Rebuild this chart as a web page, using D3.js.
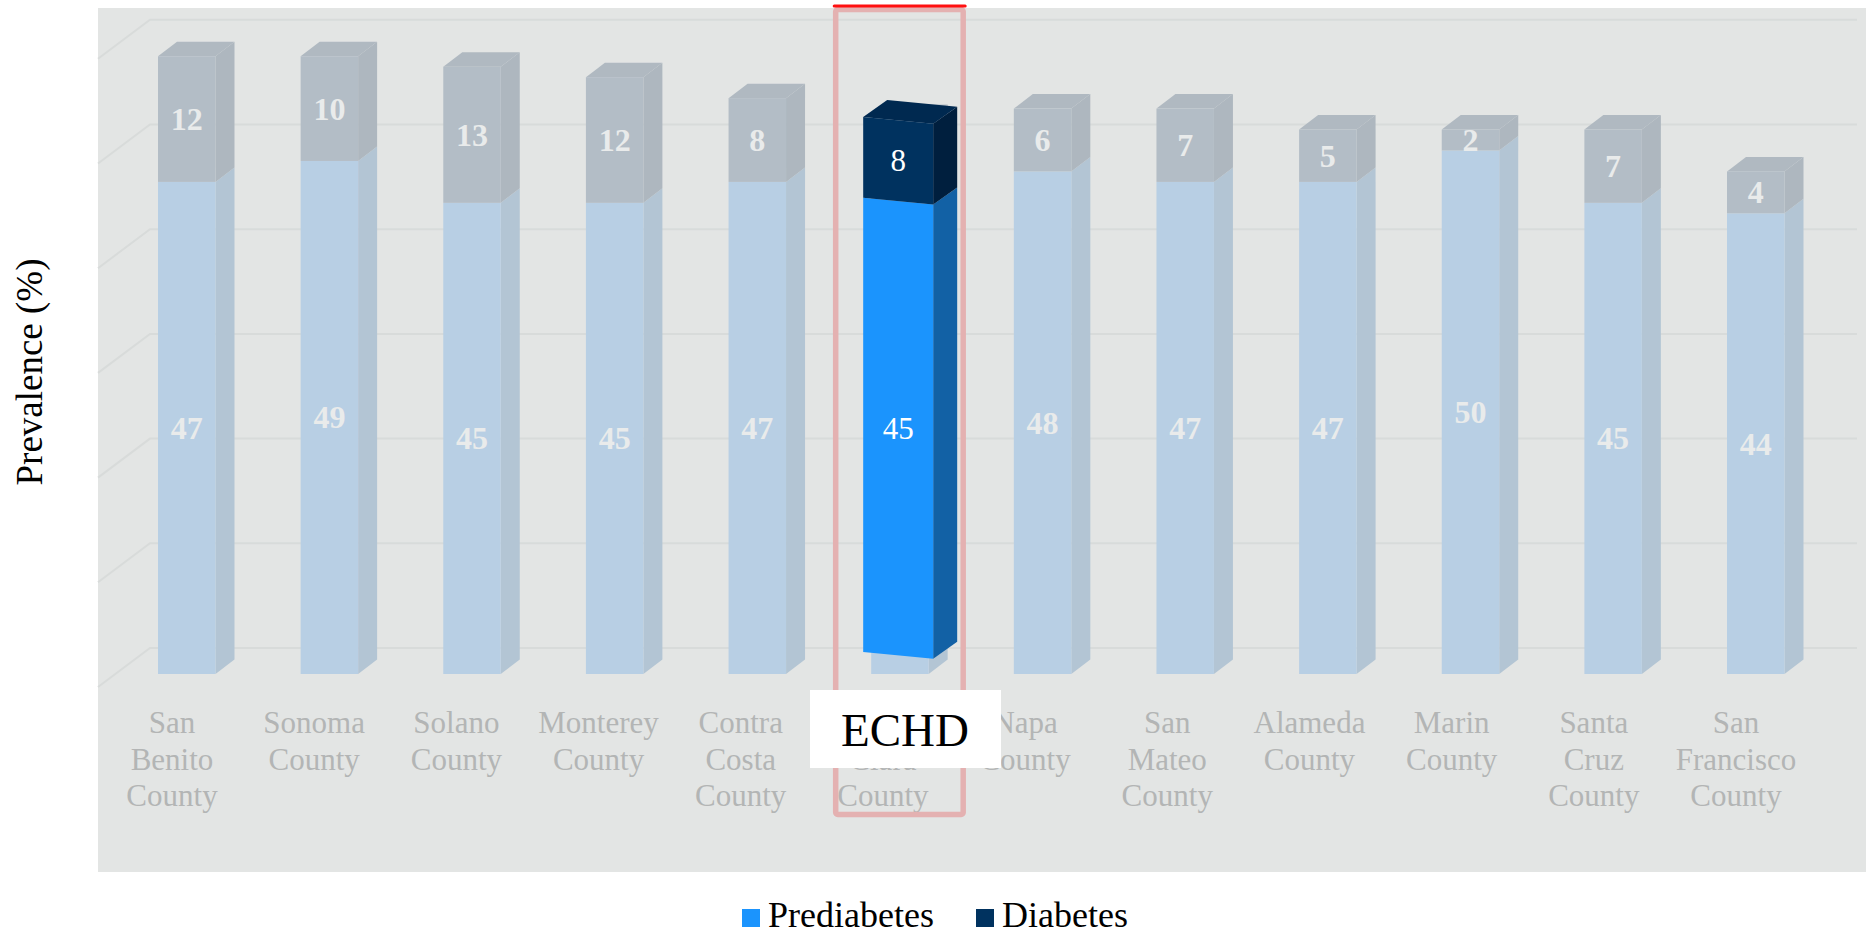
<!DOCTYPE html>
<html>
<head>
<meta charset="utf-8">
<script src="https://cdn.jsdelivr.net/npm/d3@7"></script>
<style>
  html, body { margin: 0; padding: 0; background: #ffffff; }
  svg { display: block; }
  text { font-family: "Liberation Serif", "Times New Roman", serif; }
</style>
</head>
<body>
<svg id="chart" width="1866" height="936"></svg>
<script>
// ---- data ----
const categories = ["San Benito County", "Sonoma County", "Solano County", "Monterey County",
  "Contra Costa County", "Santa Clara County", "Napa County", "San Mateo County",
  "Alameda County", "Marin County", "Santa Cruz County", "San Francisco County"];
const prediabetes = [47, 49, 45, 45, 47, 45, 48, 47, 47, 50, 45, 44];
const diabetes = [12, 10, 13, 12, 8, 8, 6, 7, 5, 2, 7, 4];
const yTicks = [0, 10, 20, 30, 40, 50, 60];
const seriesNames = ["Prediabetes", "Diabetes"];
const highlighted = "Santa Clara County";
const highlightTag = "ECHD";
const yTitle = "Prevalence (%)";

// ---- layout ----
const svg = d3.select("#chart");
const plot = { x: 98, y: 8, w: 1768, h: 864 };
const depth = { dx: 19, dy: -14.5 };      // bar depth projection
const wall = { dx: 52, dy: -26 };         // back-wall offset from bar fronts
const sideWall = { dx: -52, dy: 39 };     // left wall diagonal

const x = d3.scaleBand()
  .domain(categories)
  .range([158, 1784.5])
  .paddingInner(0.597)
  .paddingOuter(0);
const xLabel = d3.scalePoint().domain(categories).range([172, 1736]);
const y = d3.scaleLinear().domain([0, 60]).range([674, 674 - 60 * 10.47]);

const colors = {
  bg: "#e3e5e4", grid: "#d8dbda",
  ghostPre: { front: "#b8cfe4", side: "#b3c5d4", top: "#b5cbdd" },
  ghostDia: { front: "#b3bdc6", side: "#aeb7bf", top: "#b0b9c1" },
  hiPre: { front: "#1b94fd", side: "#1261a5", top: "#1a7fd8" },
  hiDia: { front: "#00325f", side: "#001f3e", top: "#002950" }
};

// plot area background
svg.append("rect").attr("x", plot.x).attr("y", plot.y)
  .attr("width", plot.w).attr("height", plot.h).attr("fill", colors.bg);

// gridlines on back wall and left side wall
const gridG = svg.append("g").attr("stroke", colors.grid).attr("stroke-width", 2).attr("fill", "none");
yTicks.forEach(t => {
  const yb = y(t) + wall.dy;
  const xb = 150;
  gridG.append("polyline")
    .attr("points", [[xb + sideWall.dx, yb + sideWall.dy], [xb, yb], [1857, yb]].map(p => p.join(",")).join(" "));
});

// ---- 3D column helpers ----
const pts = arr => arr.map(p => p.join(",")).join(" ");
function box(g, x0, x1, yTop, yBot, c, withTop) {
  const { dx, dy } = depth;
  g.append("polygon").attr("fill", c.side)
    .attr("points", pts([[x1, yTop], [x1 + dx, yTop + dy], [x1 + dx, yBot + dy], [x1, yBot]]));
  if (withTop) {
    g.append("polygon").attr("fill", c.top)
      .attr("points", pts([[x0, yTop], [x0 + dx, yTop + dy], [x1 + dx, yTop + dy], [x1, yTop]]));
  }
  g.append("rect").attr("fill", c.front)
    .attr("x", x0).attr("y", yTop).attr("width", x1 - x0).attr("height", yBot - yTop);
}

const rows = categories.map((c, i) => ({ cat: c, pre: prediabetes[i], dia: diabetes[i] }));

// muted columns for every county
const barsG = svg.append("g");
rows.forEach(d => {
  const x0 = x(d.cat), x1 = x0 + x.bandwidth();
  const g = barsG.append("g");
  box(g, x0, x1, y(d.pre), y(0), colors.ghostPre, false);
  box(g, x0, x1, y(d.pre + d.dia), y(d.pre), colors.ghostDia, true);
});

// value labels on muted columns (the highlighted county carries its own)
const lblG = svg.append("g").attr("fill", "#e9ebeb").attr("font-weight", "bold")
  .attr("font-size", 32).attr("text-anchor", "middle");
rows.filter(d => d.cat !== highlighted).forEach(d => {
  const cx = x(d.cat) + x.bandwidth() / 2;
  lblG.append("text").attr("x", cx).attr("y", (y(0) + y(d.pre)) / 2).attr("dy", "0.34em").text(d.pre);
  lblG.append("text").attr("x", cx).attr("y", (y(d.pre) + y(d.pre + d.dia)) / 2).attr("dy", "0.34em").text(d.dia);
});

// category labels, one word per line
const catG = svg.append("g").attr("fill", "#b3b5b5").attr("font-size", 31).attr("text-anchor", "middle");
rows.forEach(d => {
  const cx = xLabel(d.cat);
  d.cat.split(" ").forEach((w, k) => {
    catG.append("text").attr("x", cx).attr("y", 733 + k * 36.5).text(w);
  });
});

// ---- highlighted county, drawn as a larger, slightly tilted column ----
const hi = rows.find(d => d.cat === highlighted);
const yHi = d3.scaleLinear().domain([0, 60]).range([652, 652 - 60 * 10.094]);
const hx0 = x(hi.cat) - 8, hw = 70, tilt = 0.095, hd = { dx: 24, dy: -17 };
const P = (xl, v) => [hx0 + xl, yHi(v) + tilt * xl];
const off = p => [p[0] + hd.dx, p[1] + hd.dy];
const hiG = svg.append("g");
function hiBox(v0, v1, c, withTop) {
  hiG.append("polygon").attr("fill", c.side)
    .attr("points", pts([P(hw, v1), off(P(hw, v1)), off(P(hw, v0)), P(hw, v0)]));
  if (withTop) {
    hiG.append("polygon").attr("fill", c.top)
      .attr("points", pts([P(0, v1), off(P(0, v1)), off(P(hw, v1)), P(hw, v1)]));
  }
  hiG.append("polygon").attr("fill", c.front)
    .attr("points", pts([P(0, v1), P(hw, v1), P(hw, v0), P(0, v0)]));
}
hiBox(0, hi.pre, colors.hiPre, false);
hiBox(hi.pre, hi.pre + hi.dia, colors.hiDia, true);
const hiLbl = svg.append("g").attr("fill", "#ffffff").attr("font-size", 31).attr("text-anchor", "middle");
hiLbl.append("text").attr("x", P(hw / 2, 0)[0])
  .attr("y", (P(hw / 2, 0)[1] + P(hw / 2, hi.pre)[1]) / 2).attr("dy", "0.34em").text(hi.pre);
hiLbl.append("text").attr("x", P(hw / 2, 0)[0])
  .attr("y", (P(hw / 2, hi.pre)[1] + P(hw / 2, hi.pre + hi.dia)[1]) / 2).attr("dy", "0.34em").text(hi.dia);

// frame around the highlighted county
const fx = x(hi.cat) - 35.5;
svg.append("rect").attr("x", fx).attr("y", 9.5).attr("width", 127.5).attr("height", 805)
  .attr("rx", 2).attr("fill", "none").attr("stroke", "#e4b1b1").attr("stroke-width", 5.5);
svg.append("line").attr("x1", fx - 1.5).attr("x2", fx + 129.5).attr("y1", 6).attr("y2", 6)
  .attr("stroke", "#ff1010").attr("stroke-width", 3).attr("stroke-linecap", "round");

// tag box
svg.append("rect").attr("x", 810).attr("y", 690).attr("width", 191).attr("height", 78).attr("fill", "#ffffff");
svg.append("text").attr("x", 905).attr("y", 746).attr("text-anchor", "middle")
  .attr("font-size", 47).attr("fill", "#000").text(highlightTag);

// y-axis title
svg.append("text").attr("transform", "translate(42,372) rotate(-90)")
  .attr("text-anchor", "middle").attr("font-size", 37).attr("fill", "#000").text(yTitle);

// legend
const legend = svg.append("g");
const legendItems = [
  { name: seriesNames[0], color: colors.hiPre.front, x: 742 },
  { name: seriesNames[1], color: colors.hiDia.front, x: 976 }
];
legendItems.forEach(it => {
  legend.append("rect").attr("x", it.x).attr("y", 909).attr("width", 18).attr("height", 18).attr("fill", it.color);
  legend.append("text").attr("x", it.x + 26).attr("y", 927).attr("font-size", 36).attr("fill", "#000").text(it.name);
});
</script>
</body>
</html>
